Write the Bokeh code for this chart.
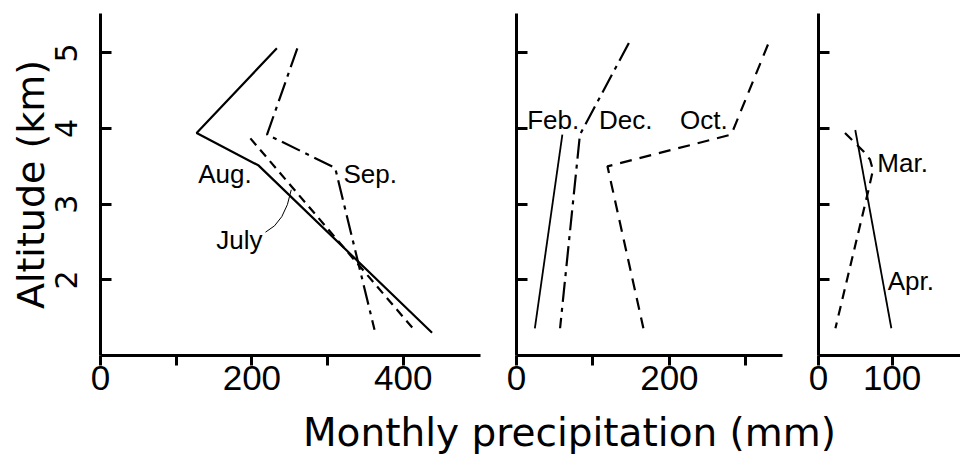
from bokeh.plotting import figure
from bokeh.layouts import row, column
from bokeh.models import FixedTicker
from bokeh.embed import file_html
from bokeh.resources import INLINE
from bokeh.core.properties import value

# ---------------- data (monthly precipitation, mm, vs altitude, km) ----------------
# Panel 1: summer months
aug_mm = [233, 127, 209, 438]
aug_km = [5.06, 3.94, 3.51, 1.30]
jul_mm = [198, 416]
jul_km = [3.87, 1.32]
sep_mm = [260, 220, 310, 362]
sep_km = [5.06, 3.92, 3.48, 1.34]
# Panel 2: autumn / winter
feb_mm = [60, 24]
feb_km = [3.92, 1.36]
dec_mm = [147, 83, 57]
dec_km = [5.13, 3.92, 1.36]
oct_mm = [329, 281, 119, 166]
oct_km = [5.11, 3.92, 3.50, 1.36]
# Panel 3: spring
mar_mm = [36, 61, 70, 74, 68, 23]
mar_km = [3.94, 3.70, 3.59, 3.45, 3.19, 1.36]
apr_mm = [50, 99]
apr_km = [3.98, 1.36]

# month labels (text, mm, km at the text's middle)
p1_lab = ["Aug.", "Sep.", "July"]
p1_lab_mm = [129, 321, 153]
p1_lab_km = [3.40, 3.40, 2.53]
p2_lab = ["Feb.", "Dec.", "Oct."]
p2_lab_mm = [14, 108, 214]
p2_lab_km = [4.11, 4.11, 4.11]
p3_lab = ["Mar.", "Apr."]
p3_lab_mm = [80, 94]
p3_lab_km = [3.54, 1.98]
# leader from "July" to its curve (start, control, end)
jul_lead_mm = [218, 244, 252]
jul_lead_km = [2.63, 2.76, 3.19]

# ticks: labelled (major) and unlabelled (minor)
x_lab1, x_unl1 = [0, 200, 400], [100, 300]
x_lab2, x_unl2 = [0, 200], [100, 300]
x_lab3, x_unl3 = [0, 100], []
y_ticks = [2, 3, 4, 5]

TICK_FONT = "Liberation Sans"
LAB_FONT = "Liberation Sans"
AX_FONT = "DejaVu Sans"
H = 409
Y0, Y1 = 1.0, 5.52


def style_ticks(ax, tin, tout):
    ax.axis_line_width = 3
    ax.axis_line_color = "black"
    ax.major_tick_line_width = 3
    ax.major_tick_line_color = "black"
    ax.minor_tick_line_width = 3
    ax.minor_tick_line_color = "black"
    ax.major_tick_in = tin
    ax.major_tick_out = tout
    ax.minor_tick_in = tin
    ax.minor_tick_out = tout


def make_fig(width, x_end, b_left, b_right, xlab, xunl, ylabelled):
    p = figure(width=width, height=H, x_range=(0, x_end), y_range=(Y0, Y1),
               output_backend="svg", toolbar_location=None, title=None,
               min_border_left=b_left, min_border_right=b_right,
               min_border_top=13, min_border_bottom=H - 355)
    p.outline_line_color = None
    p.grid.visible = False
    style_ticks(p.xaxis[0], 0, 10)
    style_ticks(p.yaxis[0], 11, 0)
    p.xaxis.ticker = FixedTicker(ticks=xlab, minor_ticks=xunl)
    p.xaxis.major_label_standoff = 0
    p.xaxis.major_label_text_font = TICK_FONT
    p.xaxis.major_label_text_font_size = "35px"
    p.xaxis.major_label_text_color = "black"
    if ylabelled:
        p.yaxis.ticker = FixedTicker(ticks=y_ticks)
    else:
        p.yaxis.ticker = FixedTicker(ticks=[], minor_ticks=y_ticks)
    return p


p1 = make_fig(490, 502, 100, 10, x_lab1, x_unl1, True)
p2 = make_fig(302, 348, 26, 10, x_lab2, x_unl2, False)
p3 = make_fig(168, 193, 26, 0, x_lab3, x_unl3, False)

p1.yaxis.axis_label = "Altitude (km)"
p1.yaxis.axis_label_text_font = AX_FONT
p1.yaxis.axis_label_text_font_size = "38px"
p1.yaxis.axis_label_text_font_style = "normal"
p1.yaxis.axis_label_text_color = "black"
p1.yaxis.axis_label_standoff = 0
p1.yaxis.major_label_orientation = "vertical"
p1.yaxis.major_label_text_font = AX_FONT
p1.yaxis.major_label_text_font_size = "30px"
p1.yaxis.major_label_text_color = "black"
p1.yaxis.major_label_standoff = 23

LW = 2.2
TXT = dict(text_font=value(LAB_FONT), text_font_size="26px", text_baseline="middle",
           text_align="left", text_color="black")
# panel 1
p1.line(aug_mm, aug_km, line_color="black", line_width=LW)
p1.line(jul_mm, jul_km, line_color="black", line_width=LW, line_dash="9 6")
p1.line(sep_mm, sep_km, line_color="black", line_width=LW, line_dash="20 6 4 6")
p1.quadratic(x0=[jul_lead_mm[0]], y0=[jul_lead_km[0]], cx=[jul_lead_mm[1]], cy=[jul_lead_km[1]],
             x1=[jul_lead_mm[2]], y1=[jul_lead_km[2]], line_color="black", line_width=1)
p1.text(x=p1_lab_mm, y=p1_lab_km, text=p1_lab, **TXT)
# panel 2
p2.line(feb_mm, feb_km, line_color="black", line_width=1.8)
p2.line(dec_mm, dec_km, line_color="black", line_width=LW, line_dash="20 6 4 6")
p2.line(oct_mm, oct_km, line_color="black", line_width=LW, line_dash="12 8")
p2.text(x=p2_lab_mm, y=p2_lab_km, text=p2_lab, **TXT)
# panel 3
p3.line(mar_mm, mar_km, line_color="black", line_width=LW, line_dash="10 7")
p3.line(apr_mm, apr_km, line_color="black", line_width=1.8)
p3.text(x=p3_lab_mm, y=p3_lab_km, text=p3_lab, **TXT)

# shared x title (strip whose data space is in pixels)
TH = 455 - H
p4 = figure(width=960, height=TH, x_range=(0, 960), y_range=(0, TH), output_backend="svg",
            toolbar_location=None, title=None, min_border=0)
p4.axis.visible = False
p4.grid.visible = False
p4.outline_line_color = None
p4.text(x=[569], y=[TH / 2], text=["Monthly precipitation (mm)"], text_font=value(AX_FONT),
        text_font_size="39px", text_align="center", text_baseline="middle",
        text_color="black")

layout = column(row(p1, p2, p3), p4)
open("out.html", "w").write(file_html(layout, INLINE))
